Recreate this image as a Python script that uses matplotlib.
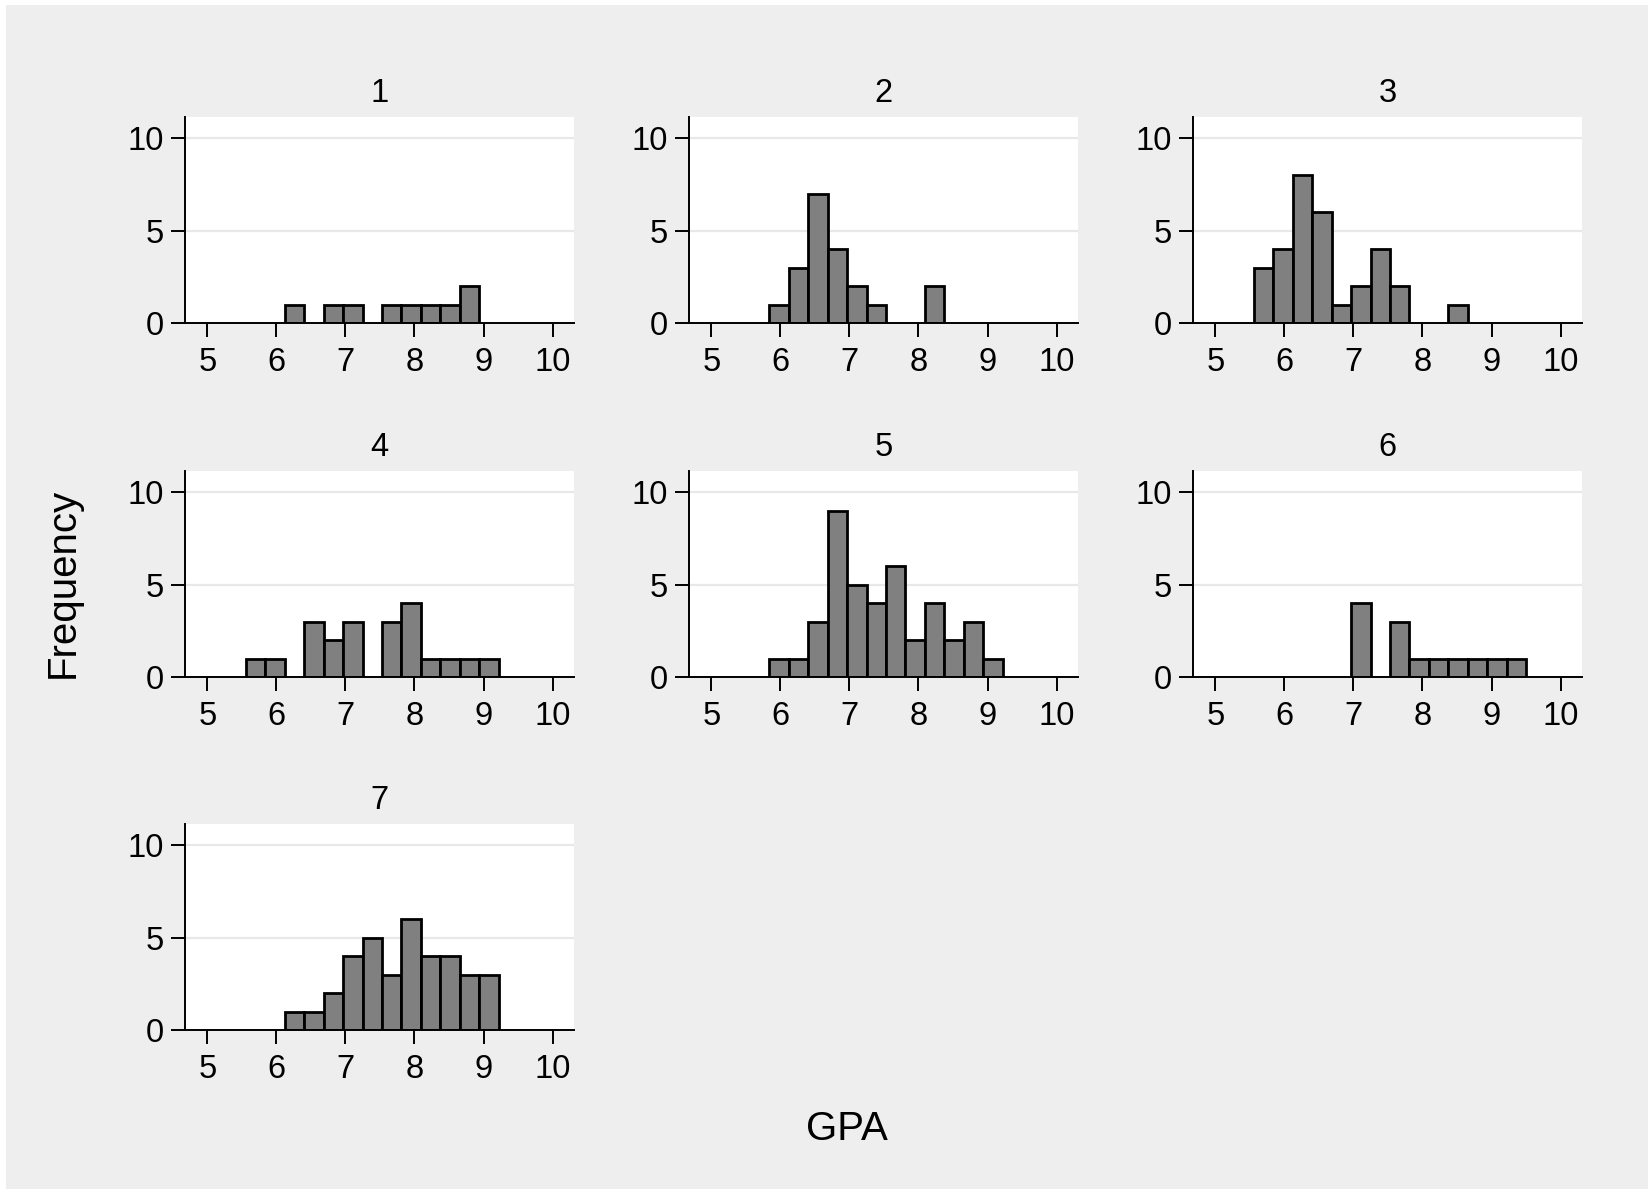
import matplotlib
matplotlib.use("Agg")
import matplotlib.pyplot as plt
from matplotlib.patches import Rectangle

# ---- data (histogram counts per group, common bins) ----
bin_start = 5.56
bin_width = 0.2814
groups = ["1", "2", "3", "4", "5", "6", "7"]
counts_1 = [0, 0, 1, 0, 1, 1, 0, 1, 1, 1, 1, 2, 0, 0]
counts_2 = [0, 1, 3, 7, 4, 2, 1, 0, 0, 2, 0, 0, 0, 0]
counts_3 = [3, 4, 8, 6, 1, 2, 4, 2, 0, 0, 1, 0, 0, 0]
counts_4 = [1, 1, 0, 3, 2, 3, 0, 3, 4, 1, 1, 1, 1, 0]
counts_5 = [0, 1, 1, 3, 9, 5, 4, 6, 2, 4, 2, 3, 1, 0]
counts_6 = [0, 0, 0, 0, 0, 4, 0, 3, 1, 1, 1, 1, 1, 1]
counts_7 = [0, 0, 1, 1, 2, 4, 5, 3, 6, 4, 4, 3, 3, 0]
all_counts = [counts_1, counts_2, counts_3, counts_4, counts_5, counts_6, counts_7]
x_ticks = [5, 6, 7, 8, 9, 10]
y_ticks = [0, 5, 10]

plt.rcParams['font.family'] = ['Liberation Sans', 'DejaVu Sans']

W, H = 1648, 1189
fig = plt.figure(figsize=(W / 100, H / 100), dpi=100)
fig.patch.set_facecolor('white')
fig.patches.append(Rectangle((6 / W, 0), 1, 1 - 5 / H, transform=fig.transFigure,
                             facecolor='#EEEEEE', edgecolor='none', zorder=-10))

col_left = [185, 689, 1193]
row_bottom = [323, 677, 1030]
pw, ph = 389, 206

for i, (g, counts) in enumerate(zip(groups, all_counts)):
    r, c = divmod(i, 3)
    ax = fig.add_axes([col_left[c] / W, (H - row_bottom[r]) / H, pw / W, ph / H])
    ax.set_facecolor('white')
    edges = [bin_start + k * bin_width for k in range(len(counts))]
    xs = [e for e, n in zip(edges, counts) if n > 0]
    hs = [n for n in counts if n > 0]
    ax.bar(xs, hs, width=bin_width, align='edge', color='#808080',
           edgecolor='black', linewidth=2.0, zorder=3)
    ax.set_xlim(4.677, 10.31)
    ax.set_ylim(0, 11.15)
    ax.set_xticks(x_ticks)
    ax.set_yticks(y_ticks)
    ax.set_xticklabels([str(t) for t in x_ticks])
    ax.set_yticklabels([str(t) for t in y_ticks])
    for yv in y_ticks[1:]:
        ax.axhline(yv, color='#E8E8E8', linewidth=1.6, zorder=1)
    for s in ['top', 'right']:
        ax.spines[s].set_visible(False)
    for s in ['left', 'bottom']:
        ax.spines[s].set_linewidth(1.4)
        ax.spines[s].set_color('black')
        ax.spines[s].set_zorder(5)
    ax.tick_params(axis='both', direction='out', length=10, width=1.4,
                   labelsize=23.5, colors='black')
    ax.tick_params(axis='x', pad=7.5)
    ax.tick_params(axis='y', pad=5)
    ax.set_title(g, fontsize=23.5, pad=11)

fig.text(63 / W, 1 - 583 / H, 'Frequency', rotation=90, fontsize=29,
         ha='center', va='center')
fig.text(847 / W, 1 - 1129 / H, 'GPA', fontsize=29, ha='center', va='center')

fig.savefig('out.png', dpi=100, facecolor=fig.get_facecolor())
